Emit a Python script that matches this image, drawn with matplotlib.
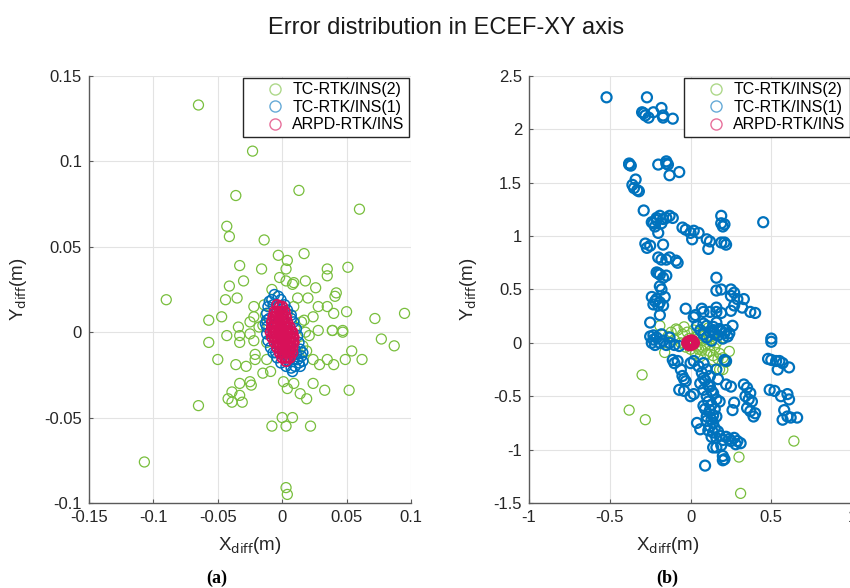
import numpy as np
import matplotlib
matplotlib.use("Agg")
import matplotlib.pyplot as plt
from matplotlib.lines import Line2D
from matplotlib.ticker import FuncFormatter

# Series names and colours
series_names = ["TC-RTK/INS(2)", "TC-RTK/INS(1)", "ARPD-RTK/INS"]
series_colors = ["#78BE3C", "#0072BD", "#D81159"]

# Panel (a): TC-RTK/INS(2) errors (x, y) in metres
a_green = [
    (-0.065, 0.133), (-0.023, 0.106), (-0.036, 0.080), (0.013, 0.083), (0.060, 0.072),
    (-0.043, 0.062), (-0.041, 0.056), (-0.014, 0.054), (-0.090, 0.019), (-0.003, 0.045),
    (0.017, 0.046), (-0.033, 0.039), (-0.016, 0.037), (0.004, 0.042), (0.003, 0.037),
    (0.051, 0.038), (0.035, 0.037), (0.035, 0.033), (-0.030, 0.030), (-0.041, 0.027),
    (-0.002, 0.032), (0.018, 0.030), (0.009, 0.029), (0.026, 0.026), (-0.044, 0.019),
    (-0.035, 0.020), (-0.022, 0.015), (0.020, 0.020), (0.041, 0.021), (0.042, 0.023),
    (0.072, 0.008), (0.095, 0.011), (-0.057, 0.007), (-0.047, 0.009), (0.028, 0.015),
    (0.035, 0.015), (0.040, 0.011), (0.050, 0.012), (0.017, 0.007), (0.024, 0.009),
    (0.039, 0.001), (0.047, 0.001), (-0.034, 0.003), (-0.025, 0.006), (-0.022, 0.009),
    (-0.018, 0.003), (0.010, 0.003), (0.004, 0.011), (0.009, 0.015), (-0.057, -0.006),
    (-0.043, -0.002), (-0.033, -0.002), (-0.033, -0.006), (-0.025, -0.001), (-0.022, -0.005),
    (-0.021, -0.013), (-0.050, -0.016), (-0.036, -0.019), (-0.028, -0.020), (-0.021, -0.016),
    (-0.012, -0.016), (-0.015, -0.024), (-0.009, -0.023), (-0.033, -0.030), (-0.025, -0.029),
    (-0.024, -0.031), (-0.039, -0.035), (-0.042, -0.039), (-0.033, -0.037), (-0.031, -0.041),
    (-0.039, -0.041), (-0.065, -0.043), (0.001, -0.029), (0.004, -0.033), (0.009, -0.030),
    (0.014, -0.036), (0.019, -0.039), (0.024, -0.030), (0.033, -0.034), (0.052, -0.034),
    (0.019, -0.011), (0.024, -0.016), (0.029, -0.019), (0.035, -0.016), (0.040, -0.019),
    (0.049, -0.016), (0.054, -0.011), (0.062, -0.016), (0.047, 0.000), (0.077, -0.004),
    (0.087, -0.008), (0.039, 0.001), (0.028, 0.001), (0.021, -0.002), (0.000, -0.050),
    (0.008, -0.050), (-0.008, -0.055), (0.003, -0.055), (0.022, -0.055), (-0.107, -0.076),
    (0.003, -0.091), (0.004, -0.095), (0.009, -0.016), (0.006, -0.013), (-0.013, 0.010),
    (-0.015, 0.004), (0.015, 0.006), (0.018, 0.000), (-0.012, -0.006), (0.016, -0.008),
    (-0.014, 0.016), (0.012, 0.020), (-0.008, 0.025), (0.008, 0.028), (0.003, 0.030),
]

# Panel (a): TC-RTK/INS(1) errors
a_blue = [
    (-0.006, 0.022), (-0.003, 0.021), (-0.008, 0.019), (-0.001, 0.019), (-0.011, 0.015),
    (-0.012, 0.011), (-0.012, 0.007), (-0.012, 0.003), (-0.012, -0.001), (-0.011, -0.005),
    (-0.009, -0.009), (-0.007, -0.012), (-0.004, -0.015), (-0.001, -0.018), (0.003, -0.020),
    (0.007, -0.021), (0.010, -0.020), (0.013, -0.018), (0.015, -0.014), (0.014, -0.010),
    (0.013, -0.006), (0.012, -0.002), (0.011, 0.002), (0.009, 0.006), (0.007, 0.010),
    (0.004, 0.013), (0.002, 0.016), (0.009, -0.016), (0.005, -0.017), (0.011, -0.013),
    (-0.007, 0.016), (-0.010, 0.008), (0.007, 0.008), (0.012, -0.016), (0.016, -0.017),
    (-0.005, -0.012), (0.010, -0.010), (0.001, 0.002), (-0.004, 0.005), (-0.010, 0.018),
    (0.014, -0.020), (0.008, -0.023), (-0.013, 0.005), (0.016, -0.012),
]

# Panel (a): ARPD-RTK/INS errors
a_red = [
    (-0.004, 0.016), (-0.002, 0.015), (0.000, 0.015),
    (-0.006, 0.012), (-0.004, 0.012), (-0.002, 0.012), (0.000, 0.012), (0.002, 0.012),
    (-0.007, 0.009), (-0.005, 0.009), (-0.003, 0.009), (-0.001, 0.009), (0.001, 0.009),
    (0.003, 0.009),
    (-0.008, 0.006), (-0.006, 0.006), (-0.004, 0.006), (-0.002, 0.006), (0.000, 0.006),
    (0.002, 0.006), (0.004, 0.006),
    (-0.008, 0.003), (-0.006, 0.003), (-0.004, 0.003), (-0.002, 0.003), (0.000, 0.003),
    (0.002, 0.003), (0.004, 0.003), (0.006, 0.003),
    (-0.009, 0.000), (-0.007, 0.000), (-0.005, 0.000), (-0.003, 0.000), (-0.001, 0.000),
    (0.001, 0.000), (0.003, 0.000), (0.005, 0.000), (0.007, 0.000), (0.008, 0.000),
    (-0.008, -0.003), (-0.006, -0.003), (-0.004, -0.003), (-0.002, -0.003), (0.000, -0.003),
    (0.002, -0.003), (0.004, -0.003), (0.006, -0.003), (0.008, -0.003), (0.009, -0.003),
    (-0.006, -0.006), (-0.004, -0.006), (-0.002, -0.006), (0.000, -0.006), (0.002, -0.006),
    (0.004, -0.006), (0.006, -0.006), (0.008, -0.006), (0.009, -0.006),
    (-0.004, -0.009), (-0.002, -0.009), (0.000, -0.009), (0.002, -0.009), (0.004, -0.009),
    (0.006, -0.009), (0.008, -0.009),
    (-0.002, -0.012), (0.000, -0.012), (0.002, -0.012), (0.004, -0.012), (0.006, -0.012),
    (0.008, -0.012),
    (0.000, -0.015), (0.002, -0.015), (0.004, -0.015), (0.006, -0.015),
    (0.003, -0.017),
]

# Panel (b): TC-RTK/INS(2) errors
b_green = [
    (-0.12, 0.10), (-0.08, 0.12), (-0.05, 0.08), (-0.02, 0.10), (0.02, 0.12),
    (0.05, 0.09), (0.08, 0.06), (0.10, 0.03), (0.12, -0.02), (0.15, -0.05),
    (0.18, -0.10), (0.20, -0.14), (0.22, -0.18), (-0.10, 0.03), (-0.06, 0.00),
    (-0.03, -0.04), (0.00, -0.06), (0.04, -0.03), (0.07, -0.07), (0.10, -0.10),
    (0.14, -0.12), (0.06, 0.03), (0.03, 0.05), (-0.01, 0.04), (0.09, 0.10),
    (0.13, 0.06), (0.16, 0.00), (-0.14, 0.06), (0.20, 0.05), (0.18, -0.25),
    (-0.19, 0.16), (-0.09, 0.13), (-0.16, -0.09), (0.14, -0.16), (0.20, -0.25),
    (0.03, -0.10), (0.11, 0.14), (-0.04, 0.15), (0.06, -0.13), (0.24, -0.08),
    (0.05, -0.06), (0.09, -0.03), (0.12, -0.08), (0.17, -0.15), (0.02, 0.01),
    (-0.30, -0.30), (-0.38, -0.63), (-0.28, -0.72), (0.64, -0.92), (0.30, -1.07),
    (0.31, -1.41),
]

# Panel (b): TC-RTK/INS(1) errors
b_blue = [
    (-0.52, 2.30), (-0.27, 2.30), (-0.30, 2.16), (-0.28, 2.13), (-0.26, 2.11),
    (-0.29, 2.15), (-0.18, 2.20), (-0.17, 2.11), (-0.17, 2.13), (-0.11, 2.10),
    (-0.23, 2.16), (-0.38, 1.67), (-0.38, 1.68), (-0.37, 1.66), (-0.20, 1.67),
    (-0.15, 1.68), (-0.14, 1.67), (-0.15, 1.70), (-0.13, 1.57), (-0.07, 1.60),
    (-0.36, 1.48), (-0.35, 1.45), (-0.32, 1.42), (-0.34, 1.53), (-0.33, 1.43),
    (-0.29, 1.24), (-0.24, 1.13), (-0.21, 1.17), (-0.19, 1.19), (-0.17, 1.16),
    (-0.13, 1.19), (-0.11, 1.17), (-0.22, 1.09), (-0.18, 1.12), (-0.20, 1.03),
    (-0.23, 1.12), (-0.15, 1.17), (-0.21, 1.15), (-0.05, 1.08), (-0.03, 1.06),
    (0.00, 1.03), (0.02, 1.05), (0.01, 0.97), (0.05, 1.03), (0.10, 0.97),
    (0.12, 0.95), (0.11, 0.88), (0.19, 1.12), (0.20, 1.09), (0.21, 1.11),
    (0.19, 1.19), (0.21, 0.94), (0.22, 0.92), (0.19, 0.94), (0.45, 1.13),
    (-0.28, 0.93), (-0.25, 0.91), (-0.27, 0.89), (-0.17, 0.92), (-0.20, 0.80),
    (-0.18, 0.78), (-0.15, 0.78), (-0.13, 0.80), (-0.09, 0.77), (-0.08, 0.75),
    (-0.21, 0.66), (-0.19, 0.64), (-0.17, 0.61), (-0.15, 0.63), (-0.20, 0.65),
    (-0.19, 0.53), (-0.18, 0.50), (-0.24, 0.43), (-0.21, 0.41), (-0.19, 0.38),
    (-0.17, 0.35), (-0.20, 0.35), (-0.23, 0.36), (-0.16, 0.43), (-0.22, 0.39),
    (-0.25, 0.19), (-0.19, 0.26), (-0.23, 0.07), (-0.18, 0.08), (-0.13, 0.05),
    (-0.03, 0.32), (0.03, 0.26), (0.02, 0.24), (0.07, 0.32), (0.08, 0.29),
    (0.12, 0.29), (0.16, 0.29), (0.19, 0.28), (0.16, 0.33), (0.16, 0.61),
    (0.16, 0.49), (0.19, 0.50), (0.25, 0.50), (0.27, 0.47), (0.25, 0.44),
    (0.29, 0.41), (0.33, 0.41), (0.32, 0.33), (0.37, 0.29), (0.40, 0.28),
    (0.27, 0.35), (0.25, 0.30), (0.10, 0.16), (0.14, 0.15), (0.18, 0.13),
    (0.22, 0.12), (0.16, 0.19), (0.26, 0.16), (0.08, 0.18), (0.04, 0.16),
    (0.50, 0.04), (0.12, 0.10), (0.17, 0.07), (0.21, 0.09), (0.06, 0.12),
    (0.08, 0.08), (0.14, 0.12), (0.19, 0.11), (0.24, 0.09), (0.10, 0.05),
    (0.15, 0.08), (0.20, 0.04), (0.23, 0.06), (0.13, 0.02),
    (-0.23, 0.03), (-0.19, 0.00), (-0.25, 0.06), (-0.22, -0.02), (-0.13, 0.00),
    (-0.10, -0.02), (-0.07, -0.03), (-0.21, 0.05), (-0.17, 0.02), (-0.15, -0.02),
    (-0.24, 0.00), (-0.11, -0.16), (-0.08, -0.17), (-0.10, -0.19), (-0.06, -0.25),
    (0.00, -0.19), (0.02, -0.17), (-0.05, -0.31), (-0.04, -0.34), (-0.03, -0.36),
    (-0.07, -0.44), (-0.04, -0.45), (0.00, -0.50), (0.02, -0.48), (0.08, -0.19),
    (0.10, -0.25), (0.12, -0.31), (0.08, -0.33), (0.16, -0.25), (0.17, -0.34),
    (0.21, -0.16), (0.22, -0.17), (0.06, -0.38), (0.08, -0.44), (0.10, -0.50),
    (0.12, -0.41), (0.14, -0.47), (0.16, -0.53), (0.18, -0.55), (0.08, -0.59),
    (0.05, -0.22), (0.07, -0.28), (0.09, -0.35), (0.11, -0.40), (0.13, -0.45),
    (0.11, -0.55), (0.13, -0.58), (0.15, -0.62), (0.09, -0.62), (0.14, -0.68),
    (0.12, -0.63), (0.10, -0.69), (0.13, -0.72), (0.16, -0.69), (0.04, -0.75),
    (0.10, -0.73), (0.14, -0.75), (0.15, -0.80), (0.11, -0.82), (0.17, -0.83),
    (0.06, -0.81), (0.12, -0.78), (0.14, -0.84), (0.16, -0.89), (0.20, -0.91),
    (0.18, -0.87), (0.22, -0.88), (0.24, -0.90), (0.27, -0.89), (0.13, -0.88),
    (0.25, -0.92), (0.29, -0.92), (0.31, -0.94), (0.20, -1.06), (0.21, -1.09),
    (0.19, -0.96), (0.28, -0.95), (0.20, -1.10),
    (0.16, -0.98), (0.09, -1.15), (0.14, -0.98), (0.33, -0.39), (0.35, -0.42),
    (0.37, -0.47), (0.34, -0.50), (0.36, -0.53), (0.38, -0.55), (0.35, -0.61),
    (0.37, -0.64), (0.39, -0.69), (0.40, -0.66), (0.27, -0.56), (0.26, -0.63),
    (0.22, -0.39), (0.25, -0.41), (0.50, 0.01), (0.48, -0.15), (0.50, -0.16),
    (0.53, -0.17), (0.55, -0.17), (0.57, -0.19), (0.54, -0.25), (0.61, -0.23),
    (0.49, -0.44), (0.52, -0.45), (0.56, -0.50), (0.60, -0.48), (0.61, -0.53),
    (0.57, -0.72), (0.60, -0.69), (0.62, -0.70), (0.66, -0.70), (0.58, -0.63),
]

# Panel (b): ARPD-RTK/INS errors
b_red = [
    (0.000, 0.000), (-0.015, 0.010), (0.015, 0.010), (-0.015, -0.010), (0.015, -0.010),
    (0.000, 0.020), (0.000, -0.020), (-0.020, 0.000), (0.020, 0.000), (0.010, 0.020),
    (-0.010, -0.020), (0.005, -0.005), (-0.005, 0.005),
]


def tick_format(value, pos):
    # MATLAB-like short labels
    return "%g" % round(value, 4)


def style_axes(ax, xlim, ylim, xticks, yticks):
    ax.set_xlim(xlim)
    ax.set_ylim(ylim)
    ax.set_xticks(xticks)
    ax.set_yticks(yticks)
    ax.xaxis.set_major_formatter(FuncFormatter(tick_format))
    ax.yaxis.set_major_formatter(FuncFormatter(tick_format))
    ax.grid(True, color="#e3e3e3", linewidth=0.8)
    ax.set_axisbelow(True)
    for side in ["top", "right"]:
        ax.spines[side].set_visible(False)
    for side in ["left", "bottom"]:
        ax.spines[side].set_color("#5a5a5a")
        ax.spines[side].set_linewidth(1.0)
    ax.tick_params(direction="in", length=3, color="#5a5a5a",
                   labelsize=12, labelcolor="#262626", pad=5)


def draw_panel(ax, points, widths):
    for pts, color, lw in zip(points, series_colors, widths):
        arr = np.array(pts).T
        ax.scatter(arr[0], arr[1], s=52, facecolors="none", edgecolors=color,
                   linewidths=lw, clip_on=True)

    # Legend with light open circles
    handles = [
        Line2D([], [], linestyle="none", marker="o", markersize=8,
               markerfacecolor="none", markeredgecolor=c, alpha=0.6)
        for c in series_colors
    ]
    leg = ax.legend(handles, series_names, loc="upper right", fontsize=11.5,
                    fancybox=False, edgecolor="#262626", framealpha=1,
                    borderaxespad=0.1, handletextpad=-0.6, labelspacing=0.15,
                    borderpad=0.3, handlelength=3.4)
    leg.get_frame().set_linewidth(1.0)


def main():
    plt.rcParams["font.family"] = ["Liberation Sans", "DejaVu Sans"]
    plt.rcParams["axes.unicode_minus"] = False

    fig = plt.figure(figsize=(8.5, 5.88), dpi=100)

    # Left panel (a)
    ax1 = fig.add_axes([0.1047, 0.1446, 0.3788, 0.7262])
    style_axes(ax1, (-0.15, 0.1), (-0.1, 0.15),
               [-0.15, -0.1, -0.05, 0, 0.05, 0.1],
               [-0.1, -0.05, 0, 0.05, 0.1, 0.15])
    draw_panel(ax1, [a_green, a_blue, a_red], [0.9, 1.1, 1.3])

    # Right panel (b), its right edge runs past the figure like the source crop
    ax2 = fig.add_axes([0.6224, 0.1446, 0.38, 0.7262])
    style_axes(ax2, (-1, 1), (-1.5, 2.5),
               [-1, -0.5, 0, 0.5, 1],
               [-1.5, -1, -0.5, 0, 0.5, 1, 1.5, 2, 2.5])
    draw_panel(ax2, [b_green, b_blue, b_red], [0.9, 1.6, 1.8])

    # Title and axis labels
    fig.text(0.525, 0.952, "Error distribution in ECEF-XY axis", fontsize=17,
             ha="center", va="center", color="#1a1a1a")
    for xc in [0.294, 0.785]:
        fig.text(xc, 0.073, r"X$_{\mathrm{diff}}$(m)", fontsize=13.5,
                 ha="center", va="center", color="#262626")
    for xc in [0.022, 0.551]:
        fig.text(xc, 0.508, r"Y$_{\mathrm{diff}}$(m)", fontsize=13.5, rotation=90,
                 ha="center", va="center", color="#262626")

    # Panel letters
    fig.text(0.255, 0.017, "(a)", fontsize=13, fontweight="bold",
             family="Liberation Serif", ha="center", va="center")
    fig.text(0.785, 0.017, "(b)", fontsize=13, fontweight="bold",
             family="Liberation Serif", ha="center", va="center")

    fig.savefig("out.png", dpi=100)


if __name__ == "__main__":
    main()
